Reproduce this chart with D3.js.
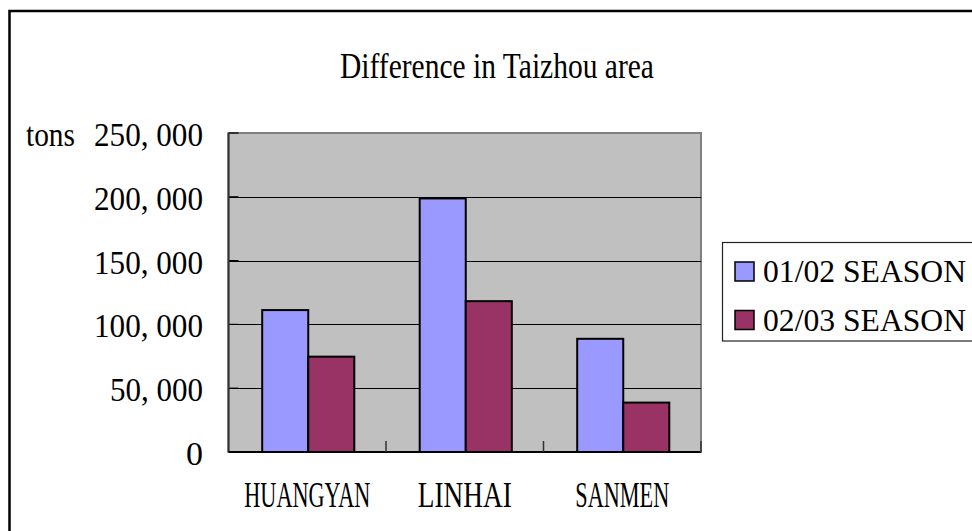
<!DOCTYPE html>
<html>
<head>
<meta charset="utf-8">
<script src="https://cdn.jsdelivr.net/npm/d3@7"></script>
<style>
	html, body { margin: 0; padding: 0; background: #fff; }
	svg { display: block; }
	text { font-family: "Liberation Serif", "Times New Roman", serif; fill: #000; }
</style>
</head>
<body>
<div id="chart"></div>
<script>
	"use strict";

	// data
	var categories = ["HUANGYAN", "LINHAI", "SANMEN"];
	var seriesNames = ["01/02 SEASON", "02/03 SEASON"];
	var season0102 = [112000, 199500, 89500];
	var season0203 = [75500, 119000, 39500];
	var yTicks = [0, 50000, 100000, 150000, 200000, 250000];
	var colors = ["#9999ff", "#993366"];

	var W = 972, H = 531;
	var plot = { left: 228.5, right: 701, top: 133, bottom: 452 };

	var svg = d3.select("#chart").append("svg")
		.attr("width", W)
		.attr("height", H);

	// squeeze a text horizontally to a given width (condensed look of the original)
	function squeeze(sel, cx, y, target) {
		sel.each(function(d, i) {
			var w = this.getComputedTextLength();
			var t = typeof target === "function" ? target(d, i) : target;
			var x = typeof cx === "function" ? cx(d, i) : cx;
			d3.select(this)
				.attr("text-anchor", "middle")
				.attr("transform", "translate(" + x + "," + y + ") scale(" + (t / w) + ",1)");
		});
	}

	// outer chart border (runs off the right and bottom edge)
	svg.append("rect")
		.attr("x", 9.5).attr("y", 11)
		.attr("width", 1000).attr("height", 600)
		.attr("fill", "none")
		.attr("stroke", "#000")
		.attr("stroke-width", 2.5);

	// title
	svg.append("text")
		.attr("font-size", 36)
		.text("Difference in Taizhou area")
		.call(squeeze, 497, 78, 314);

	// scales
	var xScale = d3.scaleBand()
		.domain(categories)
		.range([plot.left, plot.right])
		.paddingInner(0).paddingOuter(0);

	var xInner = d3.scaleBand()
		.domain(seriesNames)
		.range([0, xScale.bandwidth()])
		.paddingInner(0).paddingOuter(0.71);

	var yScale = d3.scaleLinear()
		.domain([0, 250000])
		.range([plot.bottom, plot.top]);

	// plot area
	svg.append("rect")
		.attr("x", plot.left).attr("y", plot.top)
		.attr("width", plot.right - plot.left)
		.attr("height", plot.bottom - plot.top)
		.attr("fill", "#c0c0c0")
		.attr("stroke", "#808080")
		.attr("stroke-width", 2);

	// gridlines
	svg.append("g")
		.selectAll("line")
		.data(yTicks.filter(function(d) { return d > 0 && d < 250000; }))
		.join("line")
		.attr("x1", plot.left).attr("x2", plot.right)
		.attr("y1", function(d) { return Math.round(yScale(d)) + 0.5; })
		.attr("y2", function(d) { return Math.round(yScale(d)) + 0.5; })
		.attr("stroke", "#000")
		.attr("stroke-width", 1);

	// y ticks (inside) and labels
	var fmt = function(d) { return d3.format(",")(d).replace(",", ", "); };
	var yAxis = svg.append("g");
	yAxis.selectAll("line")
		.data(yTicks)
		.join("line")
		.attr("x1", plot.left).attr("x2", plot.left + 10)
		.attr("y1", function(d) { return yScale(d); })
		.attr("y2", function(d) { return yScale(d); })
		.attr("stroke", "#000")
		.attr("stroke-width", 1.2);
	yAxis.selectAll("text")
		.data(yTicks)
		.join("text")
		.attr("x", 203)
		.attr("y", function(d) { return yScale(d) + 13; })
		.attr("text-anchor", "end")
		.attr("font-size", 34)
		.attr("textLength", function(d) {
			var s = fmt(d), n = s.replace(/\D/g, "").length;
			return s.indexOf(",") >= 0 ? n * 16 + 13 : null;
		})
		.attr("lengthAdjust", "spacingAndGlyphs")
		.text(fmt);

	svg.append("text")
		.attr("x", 26).attr("y", yScale(250000) + 13)
		.attr("font-size", 33)
		.attr("textLength", 49)
		.attr("lengthAdjust", "spacingAndGlyphs")
		.text("tons");

	// bars
	var seriesData = [season0102, season0203];
	var groups = svg.append("g")
		.selectAll("g")
		.data(categories)
		.join("g")
		.attr("transform", function(d) { return "translate(" + xScale(d) + ",0)"; });

	groups.selectAll("rect")
		.data(function(d, i) {
			return seriesNames.map(function(s, j) { return { s: s, j: j, v: seriesData[j][i] }; });
		})
		.join("rect")
		.attr("x", function(d) { return xInner(d.s) + 1; })
		.attr("width", xInner.bandwidth())
		.attr("y", function(d) { return yScale(d.v) + 1; })
		.attr("height", function(d) { return plot.bottom - yScale(d.v) - 1; })
		.attr("fill", function(d) { return colors[d.j]; })
		.attr("stroke", "#000")
		.attr("stroke-width", 2);

	// axis lines
	svg.append("line")
		.attr("x1", plot.left).attr("x2", plot.left)
		.attr("y1", plot.top).attr("y2", plot.bottom)
		.attr("stroke", "#333")
		.attr("stroke-width", 2);
	svg.append("line")
		.attr("x1", plot.left).attr("x2", plot.right)
		.attr("y1", plot.bottom).attr("y2", plot.bottom)
		.attr("stroke", "#000")
		.attr("stroke-width", 2);

	// category ticks (inside, between groups)
	svg.append("g")
		.selectAll("line")
		.data(categories.slice(1).map(function(c) { return xScale(c); }).concat([plot.right]))
		.join("line")
		.attr("x1", function(d) { return d; })
		.attr("x2", function(d) { return d; })
		.attr("y1", plot.bottom).attr("y2", plot.bottom - 11)
		.attr("stroke", "#333")
		.attr("stroke-width", 1.5);

	// category labels
	svg.append("g")
		.selectAll("text")
		.data(categories)
		.join("text")
		.attr("font-size", 35)
		.text(function(d) { return d; })
		.call(squeeze,
			function(d) { return xScale(d) + xScale.bandwidth() / 2; },
			507,
			function(d) { return d.length * 16 - 2; });

	// legend
	var legend = svg.append("g");
	legend.append("rect")
		.attr("x", 722.5).attr("y", 242.5)
		.attr("width", 300).attr("height", 98.5)
		.attr("fill", "#fff")
		.attr("stroke", "#222")
		.attr("stroke-width", 1.2);

	var items = legend.selectAll("g")
		.data(seriesNames)
		.join("g")
		.attr("transform", function(d, i) { return "translate(0," + (i * 48.5) + ")"; });
	items.append("rect")
		.attr("x", 735).attr("y", 262)
		.attr("width", 19).attr("height", 19)
		.attr("fill", function(d, i) { return colors[i]; })
		.attr("stroke", "#000")
		.attr("stroke-width", 1.5);
	items.append("text")
		.attr("x", 763).attr("y", 282)
		.attr("font-size", 32)
		.attr("textLength", 203)
		.attr("lengthAdjust", "spacingAndGlyphs")
		.text(function(d) { return d; });
</script>
</body>
</html>
